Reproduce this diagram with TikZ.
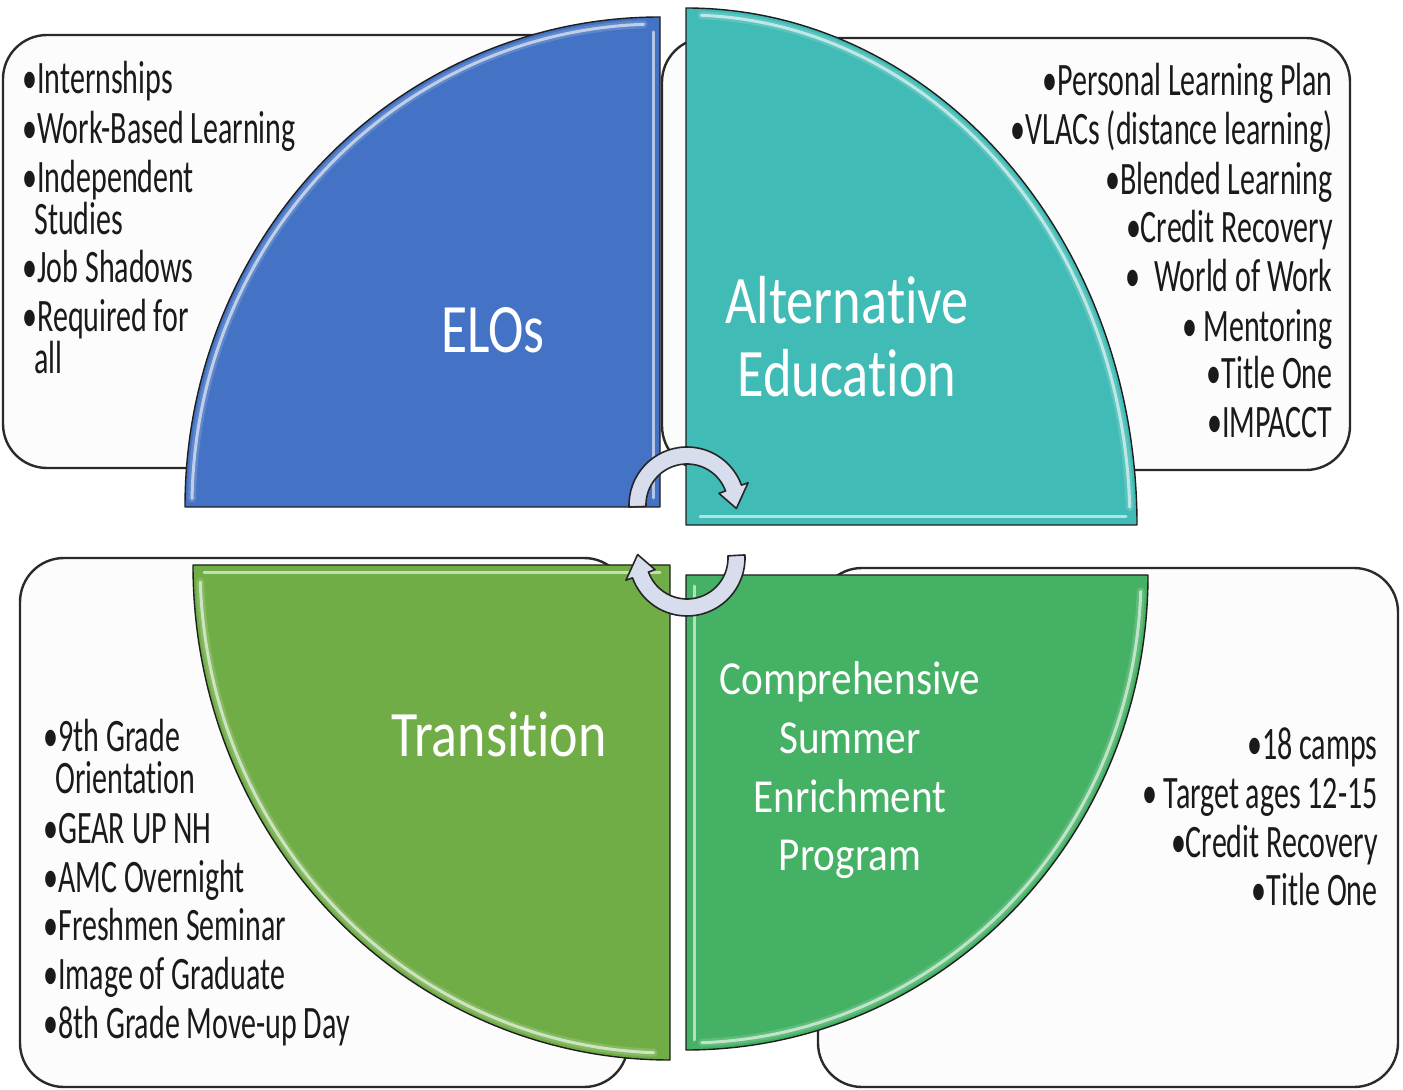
\documentclass[tikz,border=0pt]{standalone}
\usepackage{fontspec}
\setmainfont{Carlito}[Ligatures=NoCommon, RawFeature=-liga, RawFeature=-clig, RawFeature=-dlig, RawFeature=-calt]
\usetikzlibrary{calc}

\definecolor{elob}{HTML}{4472C4}
\definecolor{altt}{HTML}{41BBB5}
\definecolor{trng}{HTML}{70AD47}
\definecolor{sumg}{HTML}{45B165}
\definecolor{boxfill}{HTML}{FCFCFC}
\definecolor{boxline}{HTML}{2A2A2A}
\definecolor{quadline}{HTML}{1E1E1E}
\definecolor{itemc}{HTML}{1A1A1A}
\definecolor{cycfill}{HTML}{D8DDED}
\definecolor{cycline}{HTML}{262626}

% vertical stretch of a piece of text
\newcommand\vs[2]{\scalebox{1}[#1]{#2}}
% keep t and i as separate glyphs
\newcommand\tisep{t\kern0pt i}

\begin{document}
\begin{tikzpicture}[x=0.5pt,y=-0.5pt,
  listbox/.style={fill=boxfill, draw=boxline, line width=1.2pt, rounded corners=22pt},
  quad/.style={draw=quadline, line width=0.7pt, line join=round},
  shine/.style={draw=white, line width=1.5pt, opacity=0.6, line cap=round},
  glow/.style={draw=white, line width=4pt, opacity=0.15, line cap=round},
  item/.style={font=\fontsize{15}{15}\selectfont, text=itemc, inner sep=0pt},
  title/.style={text=white, inner sep=0pt, anchor=base},
  cyc/.style={fill=cycfill, draw=cycline, line width=0.8pt, line join=round}]

\useasboundingbox (0,0) rectangle (1403,1090);
\fill[white] (0,0) rectangle (1403,1090);

% text panels, partly covered by the quadrants
\draw[listbox] (3,35) rectangle (650,468);
\draw[listbox] (662,38) rectangle (1350,470);
\draw[listbox] (20,558) rectangle (628,1087);
\draw[listbox] (818,568) rectangle (1398,1087);

% ELOs quadrant
\fill[elob, quad] (185,507) arc[start angle=180, end angle=270, x radius=475, y radius=490] -- (660,507) -- cycle;
\draw[glow] (660,507) ++(181:468 and 483) arc[start angle=181, end angle=268, x radius=468, y radius=483];
\draw[shine] (660,507) ++(181:468 and 483) arc[start angle=181, end angle=268, x radius=468, y radius=483];
\draw[shine] (653,32) -- (653,498);

% Alternative Education quadrant
\fill[altt, quad] (686,8) arc[start angle=-90, end angle=0, x radius=451, y radius=517] -- (686,525) -- cycle;
\draw[glow] (686,525) ++(-88:444 and 510) arc[start angle=-88, end angle=-2, x radius=444, y radius=510];
\draw[shine] (686,525) ++(-88:444 and 510) arc[start angle=-88, end angle=-2, x radius=444, y radius=510];
\draw[shine] (700,517) -- (1126,517);

% Transition quadrant
\fill[trng, quad] (193,565) arc[start angle=180, end angle=90, x radius=477, y radius=495] -- (670,565) -- cycle;
\draw[glow] (670,565) ++(178:470 and 488) arc[start angle=178, end angle=92, x radius=470, y radius=488];
\draw[shine] (670,565) ++(178:470 and 488) arc[start angle=178, end angle=92, x radius=470, y radius=488];
\draw[shine] (204,573) -- (660,573);

% Summer program quadrant
\fill[sumg, quad] (1148,575) arc[start angle=0, end angle=90, x radius=462, y radius=475] -- (686,575) -- cycle;
\draw[glow] (686,575) ++(2:455 and 468) arc[start angle=2, end angle=88, x radius=455, y radius=468];
\draw[shine] (686,575) ++(2:455 and 468) arc[start angle=2, end angle=88, x radius=455, y radius=468];
\draw[shine] (694,586) -- (694,1040);

% circular arrows in the centre
\coordinate (cu) at (687,505);
\coordinate (cd) at (687,558);
\filldraw[cyc] ($(cu)+(-182:58)$) arc[start angle=-182, end angle=-20, radius=58]
  -- ($(cu)+(-20:65)$) -- ($(cu)+(4:49.5)$) -- ($(cu)+(-20:34)$) -- ($(cu)+(-20:41)$)
  arc[start angle=-20, end angle=-182, radius=41] -- cycle;
\filldraw[cyc] ($(cd)+(-3:58)$) arc[start angle=-3, end angle=160, radius=58]
  -- ($(cd)+(160:65)$) -- ($(cd)+(184:49.5)$) -- ($(cd)+(160:34)$) -- ($(cd)+(160:41)$)
  arc[start angle=160, end angle=-3, radius=41] -- cycle;

% titles
\node[title, font=\fontsize{26.7}{26.7}\selectfont] (elo) at (493,353) {\vs{1.3}{ELOs}};
\node[title, font=\fontsize{27.2}{27.2}\selectfont] (alta) at (847,324) {\vs{1.25}{Alterna\tisep ve}};
\node[title, font=\fontsize{27.2}{27.2}\selectfont] (altb) at (847,397) {\vs{1.25}{Educa\tisep on}};
\node[title, font=\fontsize{27}{27}\selectfont] (trn) at (499,756) {\vs{1.2}{Transi\tisep on}};
\node[title, font=\fontsize{20.6}{20.6}\selectfont] (suma) at (850,695) {\vs{1.15}{Comprehensive}};
\node[title, font=\fontsize{20.6}{20.6}\selectfont] (sumb) at (850,753) {\vs{1.15}{Summer}};
\node[title, font=\fontsize{20.6}{20.6}\selectfont] (sumc) at (850,812) {\vs{1.15}{Enrichment}};
\node[title, font=\fontsize{20.6}{20.6}\selectfont] (sumd) at (850,870) {\vs{1.15}{Program}};

% ELOs list
\begin{scope}[every node/.style={item, anchor=base west}]
\node (tl1) at (22,94)  {\vs{1.55}{•Internships}};
\node (tl2) at (22,144) {\vs{1.55}{•Work-Based Learning}};
\node (tl3) at (22,193) {\vs{1.55}{•Independent}};
\node (tl4) at (34,235) {\vs{1.55}{Studies}};
\node (tl5) at (22,283) {\vs{1.55}{•Job Shadows}};
\node (tl6) at (22,332) {\vs{1.55}{•Required for}};
\node (tl7) at (34,374) {\vs{1.55}{all}};
\end{scope}

% Alternative Education list
\begin{scope}[every node/.style={item, anchor=base east}]
\node (tr1) at (1333,96)  {\vs{1.55}{•Personal Learning Plan}};
\node (tr2) at (1333,145) {\vs{1.55}{•VLACs (distance learning)}};
\node (tr3) at (1333,195) {\vs{1.55}{•Blended Learning}};
\node (tr4) at (1333,243) {\vs{1.55}{•Credit Recovery}};
\node (tr5) at (1333,292) {\vs{1.55}{•\ \ World of Work}};
\node (tr6) at (1333,342) {\vs{1.55}{•\ Mentoring}};
\node (tr7) at (1333,389) {\vs{1.55}{•Title One}};
\node (tr8) at (1333,438) {\vs{1.55}{•IMPACCT}};
\end{scope}

% Transition list
\begin{scope}[every node/.style={item, anchor=base west}]
\node (bl1) at (43,751)  {\vs{1.55}{•9th Grade}};
\node (bl2) at (55,793)  {\vs{1.55}{Orienta\tisep on}};
\node (bl3) at (43,843)  {\vs{1.55}{•GEAR UP NH}};
\node (bl4) at (43,892)  {\vs{1.55}{•AMC Overnight}};
\node (bl5) at (43,940)  {\vs{1.55}{•Freshmen Seminar}};
\node (bl6) at (43,989)  {\vs{1.55}{•Image of Graduate}};
\node (bl7) at (43,1038) {\vs{1.55}{•8th Grade Move-up Day}};
\end{scope}

% Summer program list
\begin{scope}[every node/.style={item, anchor=base east}]
\node (br1) at (1378,759) {\vs{1.55}{•18 camps}};
\node (br2) at (1378,808) {\vs{1.55}{•\ Target ages 12-15}};
\node (br3) at (1378,857) {\vs{1.55}{•Credit Recovery}};
\node (br4) at (1378,905) {\vs{1.55}{•Title One}};
\end{scope}

\end{tikzpicture}
\end{document}
